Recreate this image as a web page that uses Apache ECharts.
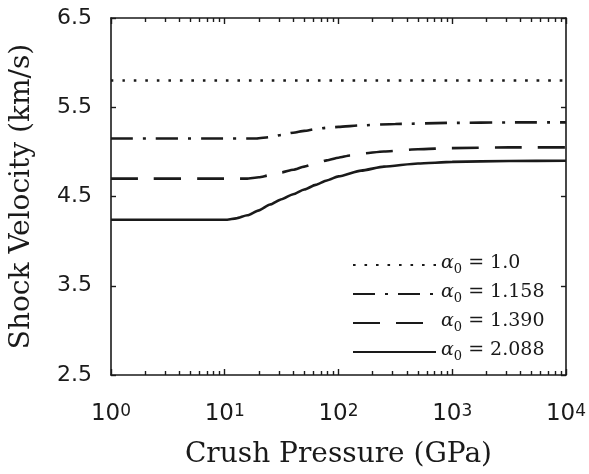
<!DOCTYPE html>
<html>
<head>
<meta charset="utf-8">
<script src="https://cdn.jsdelivr.net/npm/echarts@6/dist/echarts.min.js"></script>
<style>html,body{margin:0;padding:0;background:#fff}#c{width:589px;height:474px}</style>
</head>
<body>
<div id="c"></div>
<script>
// Data
const alphaLabels = ['1.0', '1.158', '1.390', '2.088'];

const pressure1 = [1, 10000];
const velocity1 = [5.80, 5.80];

const pressure2 = [1, 19, 25, 31.6, 40, 50, 63, 79, 100, 158, 316, 1000, 3160, 10000];
const velocity2 = [5.15, 5.15, 5.165, 5.19, 5.215, 5.235, 5.255, 5.27, 5.28, 5.297, 5.313, 5.325, 5.33, 5.33];

const pressure3 = [1, 15.5, 20, 25, 31.6, 40, 50, 63, 79, 100, 126, 158, 251, 500, 1000, 3160, 10000];
const velocity3 = [4.70, 4.70, 4.715, 4.74, 4.77, 4.80, 4.835, 4.87, 4.905, 4.935, 4.96, 4.98, 5.005, 5.03, 5.042, 5.05, 5.05];

const pressure4 = [1, 10.5, 12.6, 15.8, 20, 25, 31.6, 40, 50, 63, 79, 100, 158, 251, 500, 1000, 3160, 10000];
const velocity4 = [4.24, 4.24, 4.255, 4.29, 4.345, 4.41, 4.47, 4.525, 4.578, 4.63, 4.68, 4.725, 4.79, 4.835, 4.87, 4.888, 4.898, 4.90];

const xMajorTicks = [1, 10, 100, 1000, 10000];
const yTicks = [2.5, 3.5, 4.5, 5.5, 6.5];

const xMinorTicks = [];
for (let d = 1; d < 10000; d *= 10) for (let k = 2; k <= 9; k++) xMinorTicks.push(k * d);

const pair = (xs, ys) => xs.map((x, i) => [x, ys[i]]);

const names = alphaLabels.map(a => 'a0 = ' + a);
const lineStyles = [
  { type: [2.6, 8.9], width: 2.6 },
  { type: [22, 10, 3, 10] },
  { type: [27, 16] },
  { type: 'solid' }
];
const datasets = [pair(pressure1, velocity1), pair(pressure2, velocity2), pair(pressure3, velocity3), pair(pressure4, velocity4)];

const C = '#1a1a1a';
const serif = 'DejaVu Serif';
const sans = 'DejaVu Sans';

const chart = echarts.init(document.getElementById('c'), null, { renderer: 'canvas' });

const xBase = {
  type: 'log', logBase: 10, min: 1, max: 10000, gridIndex: 0,
  splitLine: { show: false }
};

chart.setOption({
  animation: false,
  backgroundColor: '#fff',
  grid: { left: 111, top: 18, right: 23, bottom: 94, containLabel: false },
  legend: {
    orient: 'vertical',
    left: 347, top: 249,
    itemWidth: 83, itemHeight: 14, itemGap: 7,
    itemStyle: { opacity: 0 },
    data: names,
    formatter: n => {
      const i = names.indexOf(n);
      return '{a|α}{s|0}{t| = ' + alphaLabels[i] + '}';
    },
    textStyle: {
      color: C,
      rich: {
        a: { fontFamily: serif, fontStyle: 'italic', fontSize: 19, lineHeight: 22, verticalAlign: 'top', color: C },
        s: { fontFamily: serif, fontSize: 13, lineHeight: 13, padding: [9, 0, 0, 0], verticalAlign: 'bottom', color: C },
        t: { fontFamily: serif, fontSize: 19, lineHeight: 22, verticalAlign: 'top', color: C }
      }
    }
  },
  xAxis: [
    Object.assign({}, xBase, {
      position: 'bottom',
      name: 'Crush Pressure (GPa)', nameLocation: 'middle', nameGap: 66,
      nameTextStyle: { fontFamily: serif, fontSize: 28, color: C },
      axisLine: { show: true, lineStyle: { color: C, width: 1.6 } },
      axisTick: { show: true, inside: true, length: 6, lineStyle: { color: C, width: 1.4 } },
      axisLabel: {
        margin: 28,
        formatter: v => '{b|10}{s|' + Math.round(Math.log10(v)) + '}',
        rich: {
          b: { fontFamily: sans, fontSize: 23, lineHeight: 23, padding: [11, 0, 0, 0], verticalAlign: 'bottom', color: C },
          s: { fontFamily: sans, fontSize: 17, lineHeight: 17, verticalAlign: 'top', color: C }
        }
      }
    }),
    Object.assign({}, xBase, {
      position: 'bottom',
      axisLine: { show: false },
      axisTick: { show: true, inside: true, length: 4, customValues: xMinorTicks, lineStyle: { color: C, width: 1.4 } },
      axisLabel: { show: false }
    }),
    Object.assign({}, xBase, {
      position: 'top',
      axisLine: { show: true, lineStyle: { color: C, width: 1.6 } },
      axisTick: { show: true, inside: true, length: 6, lineStyle: { color: C, width: 1.4 } },
      axisLabel: { show: false }
    }),
    Object.assign({}, xBase, {
      position: 'top',
      axisLine: { show: false },
      axisTick: { show: true, inside: true, length: 4, customValues: xMinorTicks, lineStyle: { color: C, width: 1.4 } },
      axisLabel: { show: false }
    })
  ],
  yAxis: [
    {
      type: 'value', min: 2.5, max: 6.5, position: 'left',
      name: 'Shock Velocity (km/s)', nameLocation: 'middle', nameGap: 75,
      nameTextStyle: { fontFamily: serif, fontSize: 28, color: C },
      splitLine: { show: false },
      axisLine: { show: true, lineStyle: { color: C, width: 1.6 } },
      axisTick: { show: true, inside: true, length: 5, customValues: yTicks, lineStyle: { color: C, width: 1.4 } },
      axisLabel: { customValues: yTicks, margin: 19, fontFamily: sans, fontSize: 22, color: C, formatter: v => v.toFixed(1) }
    },
    {
      type: 'value', min: 2.5, max: 6.5, position: 'right',
      splitLine: { show: false },
      axisLine: { show: true, lineStyle: { color: C, width: 1.6 } },
      axisTick: { show: true, inside: true, length: 5, customValues: yTicks, lineStyle: { color: C, width: 1.4 } },
      axisLabel: { show: false }
    }
  ],
  series: datasets.map((d, i) => ({
    name: names[i],
    type: 'line',
    xAxisIndex: 0, yAxisIndex: 0,
    data: d,
    symbol: 'none',
    smooth: 0.2,
    smoothMonotone: 'x',
    lineStyle: Object.assign({ color: C, width: 2.6 }, lineStyles[i]),
    itemStyle: { color: C },
    z: 3
  }))
});
</script>
</body>
</html>
